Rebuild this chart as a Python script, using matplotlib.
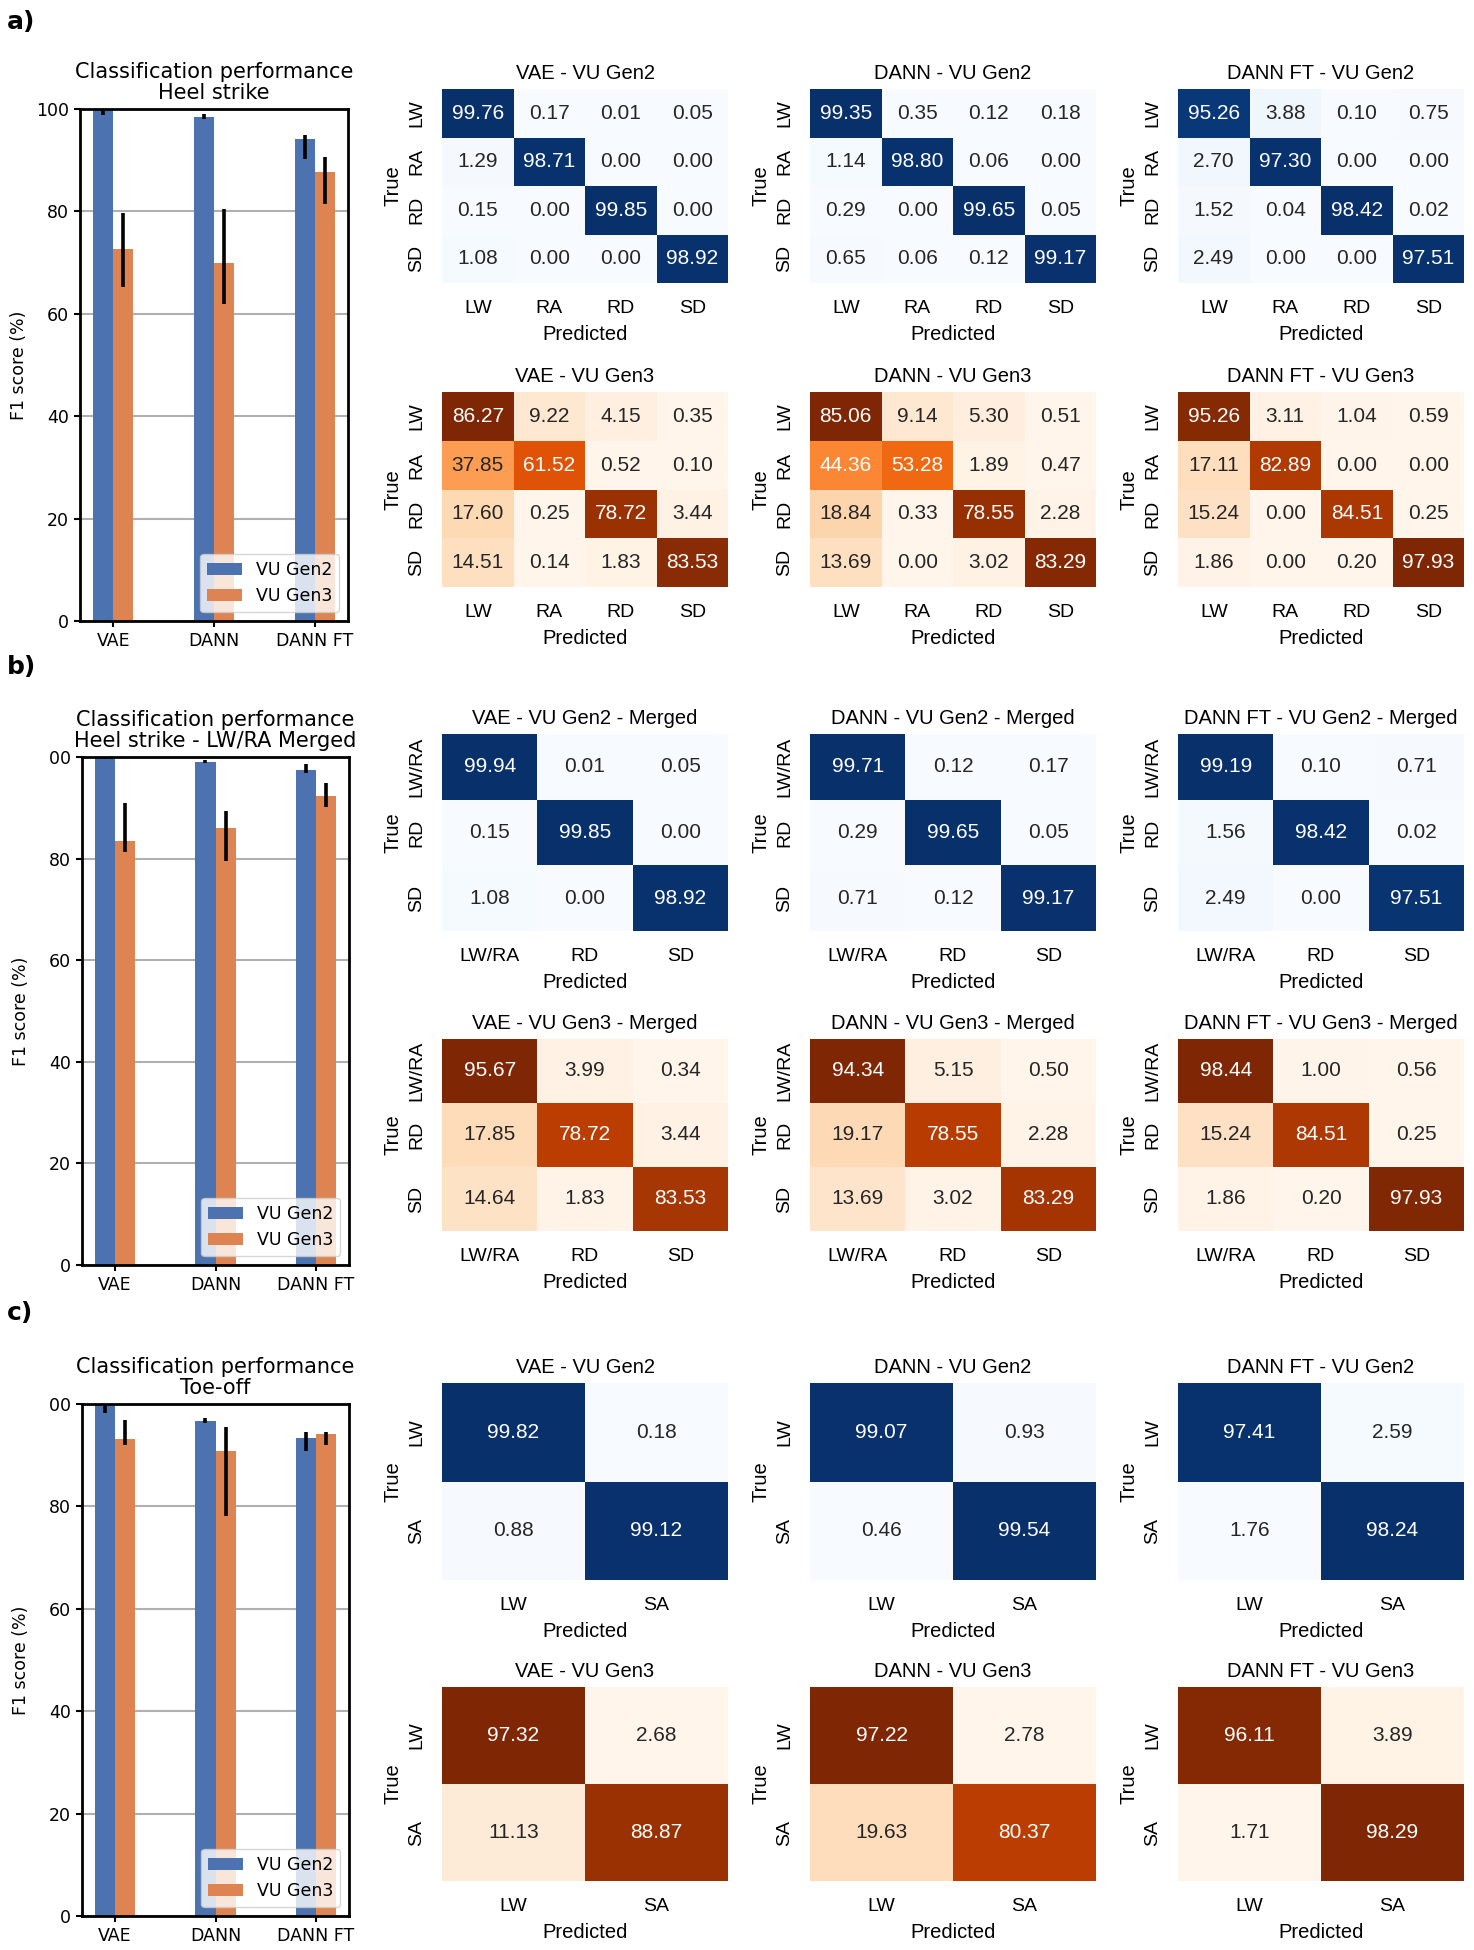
import numpy as np
import matplotlib
matplotlib.use("Agg")
import matplotlib.pyplot as plt
import seaborn as sns
from matplotlib.transforms import Bbox, TransformedBbox

W, H = 1474, 1950

# ---- bar chart data (F1 score, %), with confidence interval bounds ----
models = ["VAE", "DANN", "DANN FT"]
series = ["VU Gen2", "VU Gen3"]

heel_gen2 = [99.8, 98.5, 94.2]
heel_gen2_lo = [98.9, 98.0, 90.2]
heel_gen2_hi = [100.2, 99.0, 95.0]
heel_gen3 = [72.6, 69.9, 87.6]
heel_gen3_lo = [65.3, 62.0, 81.4]
heel_gen3_hi = [79.7, 80.4, 90.6]

merged_gen2 = [99.9, 99.1, 97.5]
merged_gen2_lo = [99.7, 98.8, 96.8]
merged_gen2_hi = [100.1, 99.4, 98.7]
merged_gen3 = [83.4, 86.0, 92.4]
merged_gen3_lo = [81.3, 79.5, 90.2]
merged_gen3_hi = [90.9, 89.3, 94.8]

toe_gen2 = [99.9, 96.7, 93.4]
toe_gen2_lo = [98.2, 96.3, 90.8]
toe_gen2_hi = [100.1, 97.3, 94.5]
toe_gen3 = [93.2, 90.9, 94.2]
toe_gen3_lo = [91.9, 78.1, 91.9]
toe_gen3_hi = [96.8, 95.5, 94.5]

# ---- confusion matrices (%) ----
labels4 = ["LW", "RA", "RD", "SD"]
labels3 = ["LW/RA", "RD", "SD"]
labels2 = ["LW", "SA"]

cm_heel_gen2 = {
    "VAE": [[99.76, 0.17, 0.01, 0.05], [1.29, 98.71, 0.00, 0.00],
            [0.15, 0.00, 99.85, 0.00], [1.08, 0.00, 0.00, 98.92]],
    "DANN": [[99.35, 0.35, 0.12, 0.18], [1.14, 98.80, 0.06, 0.00],
             [0.29, 0.00, 99.65, 0.05], [0.65, 0.06, 0.12, 99.17]],
    "DANN FT": [[95.26, 3.88, 0.10, 0.75], [2.70, 97.30, 0.00, 0.00],
                [1.52, 0.04, 98.42, 0.02], [2.49, 0.00, 0.00, 97.51]],
}
cm_heel_gen3 = {
    "VAE": [[86.27, 9.22, 4.15, 0.35], [37.85, 61.52, 0.52, 0.10],
            [17.60, 0.25, 78.72, 3.44], [14.51, 0.14, 1.83, 83.53]],
    "DANN": [[85.06, 9.14, 5.30, 0.51], [44.36, 53.28, 1.89, 0.47],
             [18.84, 0.33, 78.55, 2.28], [13.69, 0.00, 3.02, 83.29]],
    "DANN FT": [[95.26, 3.11, 1.04, 0.59], [17.11, 82.89, 0.00, 0.00],
                [15.24, 0.00, 84.51, 0.25], [1.86, 0.00, 0.20, 97.93]],
}
cm_merged_gen2 = {
    "VAE": [[99.94, 0.01, 0.05], [0.15, 99.85, 0.00], [1.08, 0.00, 98.92]],
    "DANN": [[99.71, 0.12, 0.17], [0.29, 99.65, 0.05], [0.71, 0.12, 99.17]],
    "DANN FT": [[99.19, 0.10, 0.71], [1.56, 98.42, 0.02], [2.49, 0.00, 97.51]],
}
cm_merged_gen3 = {
    "VAE": [[95.67, 3.99, 0.34], [17.85, 78.72, 3.44], [14.64, 1.83, 83.53]],
    "DANN": [[94.34, 5.15, 0.50], [19.17, 78.55, 2.28], [13.69, 3.02, 83.29]],
    "DANN FT": [[98.44, 1.00, 0.56], [15.24, 84.51, 0.25], [1.86, 0.20, 97.93]],
}
cm_toe_gen2 = {
    "VAE": [[99.82, 0.18], [0.88, 99.12]],
    "DANN": [[99.07, 0.93], [0.46, 99.54]],
    "DANN FT": [[97.41, 2.59], [1.76, 98.24]],
}
cm_toe_gen3 = {
    "VAE": [[97.32, 2.68], [11.13, 88.87]],
    "DANN": [[97.22, 2.78], [19.63, 80.37]],
    "DANN FT": [[96.11, 3.89], [1.71, 98.29]],
}

BLUE = "#4c72b0"
ORANGE = "#dd8452"
HM_FONT = ["Liberation Sans", "DejaVu Sans"]

fig = plt.figure(figsize=(W / 100, H / 100), dpi=100)


def px_axes(x0, y0, x1, y1):
    # pixel box (top-left origin) -> figure axes
    return fig.add_axes([x0 / W, 1 - y1 / H, (x1 - x0) / W, (y1 - y0) / H])


def ci_err(mean, lo, hi):
    mean = np.asarray(mean)
    return [mean - np.asarray(lo), np.asarray(hi) - mean]


def bar_panel(box, title, g2, g2lo, g2hi, g3, g3lo, g3hi, clip_top_label=False):
    ax = px_axes(*box)
    x = np.arange(len(models))
    w = 0.2
    ax.bar(x - w / 2, g2, w, color=BLUE, label=series[0], zorder=2)
    ax.bar(x + w / 2, g3, w, color=ORANGE, label=series[1], zorder=2)
    ax.errorbar(x - w / 2, g2, yerr=ci_err(g2, g2lo, g2hi), fmt="none", ecolor="black",
                elinewidth=2.6, capsize=0, zorder=3)
    ax.errorbar(x + w / 2, g3, yerr=ci_err(g3, g3lo, g3hi), fmt="none", ecolor="black",
                elinewidth=2.6, capsize=0, zorder=3)
    ax.set_xlim(-0.33, 2.33)
    ax.set_ylim(0, 100)
    ax.set_yticks([0, 20, 40, 60, 80, 100])
    ax.set_xticks(x)
    ax.set_xticklabels(models)
    ax.yaxis.grid(True, color="#b0b0b0", linewidth=1.5, zorder=0)
    ax.set_axisbelow(True)
    for s in ax.spines.values():
        s.set_linewidth(2.0)
        s.set_zorder(4)
    ax.tick_params(axis="both", labelsize=12.5, width=1.5, length=4.5)
    ax.set_ylabel("F1 score (%)", fontsize=12.5, labelpad=6)
    ax.set_title(title, fontsize=15, pad=7, linespacing=1.1)
    ax.legend(loc="lower right", fontsize=12.5, borderaxespad=0.5)
    if clip_top_label:
        # the "1" of "100" is cut off in these panels
        clip = TransformedBbox(Bbox([[49 / W, 0], [1, 1]]), fig.transFigure)
        for t in ax.get_yticklabels():
            t.set_clip_box(clip)
            t.set_clip_on(True)
    return ax


def heat_panel(box, title, data, labels, cmap):
    ax = px_axes(*box)
    sns.heatmap(np.array(data), annot=True, fmt=".2f", cmap=cmap, cbar=False, ax=ax,
                xticklabels=labels, yticklabels=labels,
                annot_kws={"fontsize": 15, "family": HM_FONT})
    ax.set_title(title, fontsize=14.5, family=HM_FONT, pad=7)
    ax.set_xlabel("Predicted", fontsize=14.5, family=HM_FONT, labelpad=6)
    ax.set_ylabel("True", fontsize=14.5, family=HM_FONT, labelpad=4)
    ax.tick_params(axis="both", length=0, pad=12, labelsize=14)
    for t in ax.get_xticklabels():
        t.set_family(HM_FONT)
        t.set_rotation(0)
    for t in ax.get_yticklabels():
        t.set_family(HM_FONT)
        t.set_rotation(90)
        t.set_va("center")
    return ax


bar_panel((80, 109, 348, 621), "Classification performance\nHeel strike",
          heel_gen2, heel_gen2_lo, heel_gen2_hi, heel_gen3, heel_gen3_lo, heel_gen3_hi)
bar_panel((82, 757, 349, 1265), "Classification performance\nHeel strike - LW/RA Merged",
          merged_gen2, merged_gen2_lo, merged_gen2_hi, merged_gen3, merged_gen3_lo, merged_gen3_hi,
          clip_top_label=True)
bar_panel((82, 1404, 349, 1916), "Classification performance\nToe-off",
          toe_gen2, toe_gen2_lo, toe_gen2_hi, toe_gen3, toe_gen3_lo, toe_gen3_hi,
          clip_top_label=True)

cols = [(442, 728), (810, 1096), (1178, 1464)]
rows = [
    ((89, 283), cm_heel_gen2, labels4, "Blues", " - VU Gen2"),
    ((392, 587), cm_heel_gen3, labels4, "Oranges", " - VU Gen3"),
    ((734, 931), cm_merged_gen2, labels3, "Blues", " - VU Gen2 - Merged"),
    ((1039, 1231), cm_merged_gen3, labels3, "Oranges", " - VU Gen3 - Merged"),
    ((1383, 1580), cm_toe_gen2, labels2, "Blues", " - VU Gen2"),
    ((1687, 1881), cm_toe_gen3, labels2, "Oranges", " - VU Gen3"),
]
for (y0, y1), cms, labs, cmap, suffix in rows:
    for (x0, x1), m in zip(cols, models):
        heat_panel((x0, y0, x1, y1), m + suffix, cms[m], labs, cmap)

for lab, yc in [("a)", 22), ("b)", 667), ("c)", 1313)]:
    fig.text(7 / W, 1 - yc / H, lab, fontsize=18, fontweight="bold", va="center", ha="left")

fig.savefig("out.png", dpi=100)
plt.close(fig)
